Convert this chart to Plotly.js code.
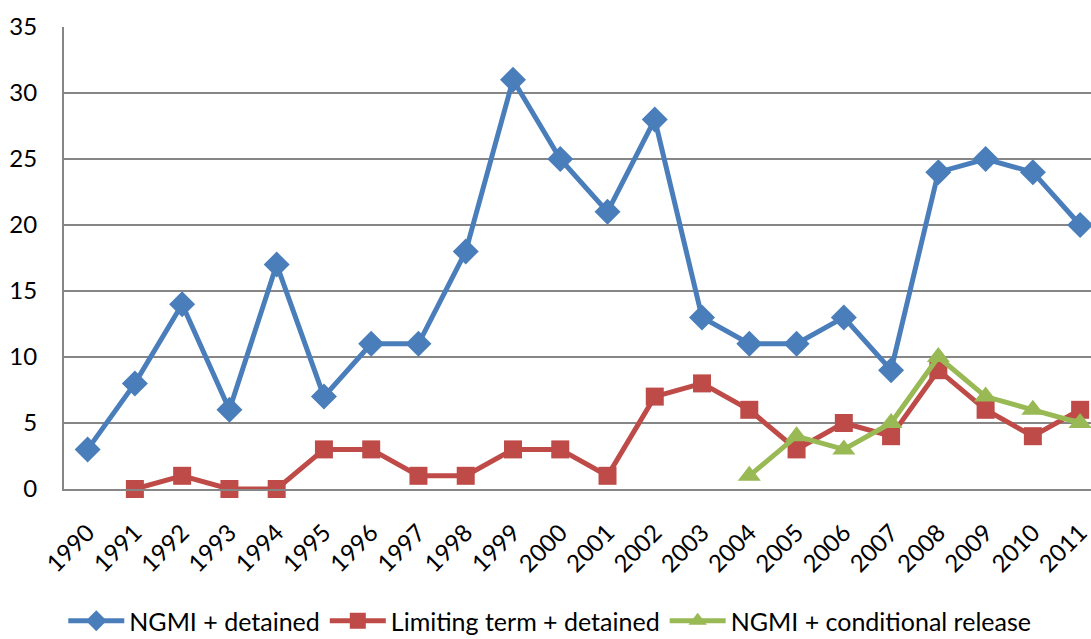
<!DOCTYPE html>
<html>
<head>
<meta charset="utf-8">
<script src="https://cdn.plot.ly/plotly-3.0.1.min.js"></script>
<style>html,body{margin:0;padding:0;background:#fff;overflow:hidden;}#wrap{width:1091px;height:639px;overflow:hidden;}</style>
</head>
<body>
<div id="wrap"><div id="chart"></div></div>
<script>
var years = ["1990","1991","1992","1993","1994","1995","1996","1997","1998","1999","2000","2001","2002","2003","2004","2005","2006","2007","2008","2009","2010","2011"];
var ngmiDetained = [3,8,14,6,17,7,11,11,18,31,25,21,28,13,11,11,13,9,24,25,24,20];
var limitingDetained = [null,0,1,0,0,3,3,1,1,3,3,1,7,8,6,3,5,4,9,6,4,6];
var ngmiConditional = [null,null,null,null,null,null,null,null,null,null,null,null,null,null,1,4,3,5,10,7,6,5];
var seriesNames = ["NGMI + detained","Limiting term + detained","NGMI + conditional release"];

var traces = [
  {x: years, y: ngmiDetained, name: seriesNames[0], type: "scatter", mode: "lines+markers", cliponaxis: false,
   line: {color: "#4A7EBB", width: 5}, marker: {symbol: "diamond", size: 20, color: "#4A7EBB"}},
  {x: years, y: limitingDetained, name: seriesNames[1], type: "scatter", mode: "lines+markers", cliponaxis: false,
   line: {color: "#BE4B48", width: 5}, marker: {symbol: "square", size: 18, color: "#BE4B48"}},
  {x: years, y: ngmiConditional, name: seriesNames[2], type: "scatter", mode: "lines+markers", cliponaxis: false,
   line: {color: "#98B954", width: 5}, marker: {symbol: "triangle-up", size: 20, color: "#98B954"}}
];

var layout = {
  width: 1091, height: 644,
  margin: {l: 64, r: 0, t: 27, b: 155},
  paper_bgcolor: "#fff", plot_bgcolor: "#fff",
  font: {family: "Lato, 'Open Sans', sans-serif", size: 24, color: "#000"},
  showlegend: true,
  legend: {orientation: "h", xref: "container", yref: "container", x: 0.058, xanchor: "left",
           y: 0.0, yanchor: "bottom", font: {size: 25, color: "#000"}, itemwidth: 56, traceorder: "normal"},
  xaxis: {type: "category", range: [-0.5, 21.23], tickangle: -45, showgrid: false,
          showline: true, linecolor: "#868686", linewidth: 2, ticks: "", zeroline: false,
          ticklabelstandoff: 18, tickfont: {size: 24, color: "#000"}, fixedrange: true},
  yaxis: {range: [0, 35], dtick: 5, showgrid: true, gridcolor: "#868686", gridwidth: 2,
          showline: true, linecolor: "#868686", linewidth: 2, zeroline: false, ticks: "",
          ticklabelstandoff: 20, tickfont: {size: 24, color: "#000"}, fixedrange: true}
};

Plotly.newPlot("chart", traces, layout, {displayModeBar: false, staticPlot: true});
</script>
</body>
</html>
